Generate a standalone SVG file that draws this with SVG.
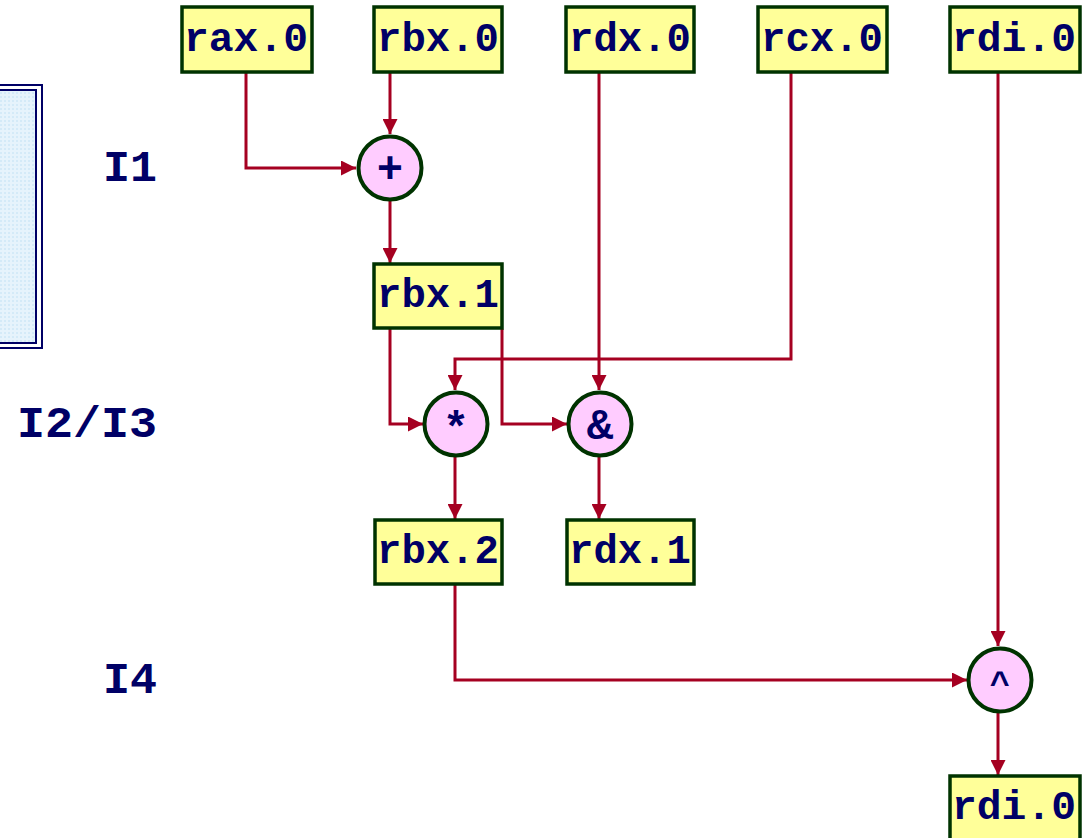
<svg xmlns="http://www.w3.org/2000/svg" width="1090" height="838" viewBox="0 0 1090 838">
<defs>
<pattern id="dots" width="4" height="4" patternUnits="userSpaceOnUse">
<rect width="4" height="4" fill="#e6f3fc"/>
<rect width="2" height="2" fill="#d4eaf8"/>
</pattern>
<marker id="arr" viewBox="0 0 10 10" refX="10" refY="5" markerWidth="5" markerHeight="5" markerUnits="strokeWidth" orient="auto">
<path d="M0,0 L10,5 L0,10 Z" fill="#a50021"/>
</marker>
</defs>
<style>
.box{fill:#ffff99;stroke:#003300;stroke-width:3.5}
.op{fill:#ffccff;stroke:#003300;stroke-width:4}
.t{font-family:"Liberation Mono",monospace;font-weight:bold;fill:#000066;text-anchor:middle}
.bt{font-size:41px}
.ot{font-size:44px}
.lab{font-family:"Liberation Mono",monospace;font-weight:bold;fill:#000066;font-size:44px;text-anchor:end}
.c{fill:none;stroke:#a50021;stroke-width:3;marker-end:url(#arr)}
</style>
<g id="side">
<rect x="-10" y="85" width="52" height="263" fill="#ffffff" stroke="#000066" stroke-width="2"/>
<rect x="-10" y="90" width="46" height="253" fill="url(#dots)" stroke="#000066" stroke-width="2"/>
</g>
<g id="labels">
<text class="lab" x="157" y="181" textLength="54" lengthAdjust="spacingAndGlyphs">I1</text>
<text class="lab" x="157" y="437" textLength="140" lengthAdjust="spacingAndGlyphs">I2/I3</text>
<text class="lab" x="157" y="693" textLength="54" lengthAdjust="spacingAndGlyphs">I4</text>
</g>
<g id="connectors">
<path class="c" d="M246,73 V168 H356"/>
<path class="c" d="M390,73 V134"/>
<path class="c" d="M390,200 V263"/>
<path class="c" d="M390,329 V424 H423"/>
<path class="c" d="M502,329 V424 H567"/>
<path class="c" d="M599,73 V390"/>
<path class="c" d="M791,73 V359 H455 V390"/>
<path class="c" d="M455,457 V519"/>
<path class="c" d="M599,457 V519"/>
<path class="c" d="M455,585 V680 H967"/>
<path class="c" d="M998,73 V646"/>
<path class="c" d="M998,713 V775"/>
</g>
<g id="rax0"><rect class="box" x="182" y="7" width="130" height="65"/><text class="t bt" x="246" y="51" textLength="124" lengthAdjust="spacingAndGlyphs">rax.0</text></g>
<g id="rbx0"><rect class="box" x="374" y="7" width="128" height="65"/><text class="t bt" x="438" y="51" textLength="122" lengthAdjust="spacingAndGlyphs">rbx.0</text></g>
<g id="rdx0"><rect class="box" x="566" y="7" width="128" height="65"/><text class="t bt" x="630" y="51" textLength="122" lengthAdjust="spacingAndGlyphs">rdx.0</text></g>
<g id="rcx0"><rect class="box" x="758" y="7" width="129" height="65"/><text class="t bt" x="822" y="51" textLength="122" lengthAdjust="spacingAndGlyphs">rcx.0</text></g>
<g id="rdi0"><rect class="box" x="950" y="7" width="130" height="65"/><text class="t bt" x="1014" y="51" textLength="124" lengthAdjust="spacingAndGlyphs">rdi.0</text></g>
<g id="plus"><circle class="op" cx="390" cy="168" r="31.5"/><text class="t ot" x="390" y="183">+</text></g>
<g id="rbx1"><rect class="box" x="374" y="264" width="128" height="64"/><text class="t bt" x="438" y="307" textLength="122" lengthAdjust="spacingAndGlyphs">rbx.1</text></g>
<g id="mul"><circle class="op" cx="456" cy="424" r="31.5"/><text class="t ot" x="456" y="442">*</text></g>
<g id="and"><circle class="op" cx="600" cy="424" r="31.5"/><text class="t ot" x="600" y="439">&amp;</text></g>
<g id="rbx2"><rect class="box" x="375" y="520" width="127" height="64"/><text class="t bt" x="438" y="563" textLength="122" lengthAdjust="spacingAndGlyphs">rbx.2</text></g>
<g id="rdx1"><rect class="box" x="567" y="520" width="127" height="64"/><text class="t bt" x="630" y="563" textLength="122" lengthAdjust="spacingAndGlyphs">rdx.1</text></g>
<g id="xor"><circle class="op" cx="1000" cy="680" r="31.5"/><text class="t" style="font-size:34px" x="1000" y="694">^</text></g>
<g id="rdi0b"><rect class="box" x="950" y="776" width="130" height="70"/><text class="t bt" x="1014" y="819" textLength="124" lengthAdjust="spacingAndGlyphs">rdi.0</text></g>
</svg>
